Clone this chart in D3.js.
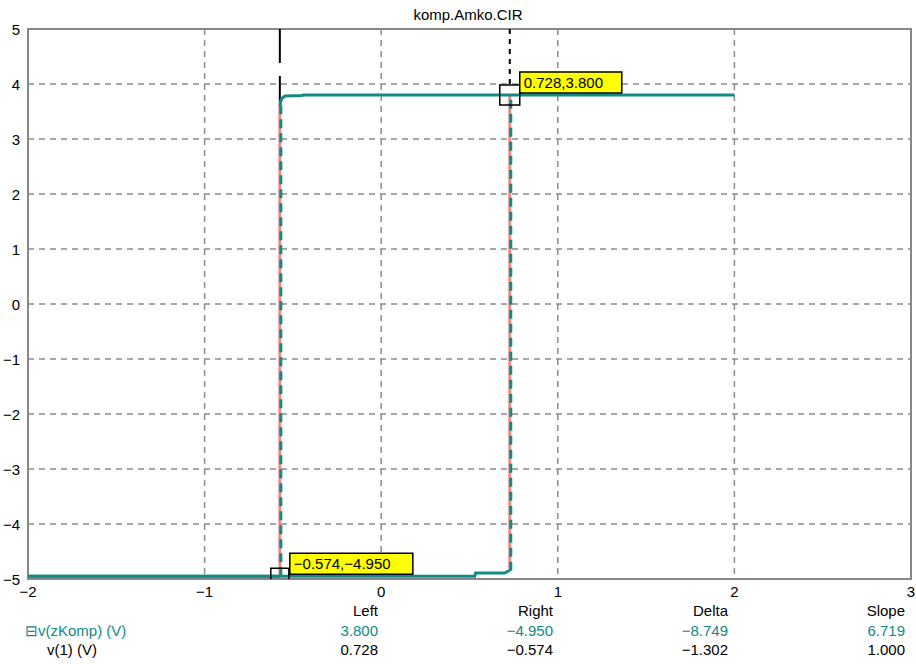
<!DOCTYPE html>
<html>
<head>
<meta charset="utf-8">
<script src="https://cdn.jsdelivr.net/npm/d3@7"></script>
<style>
body { margin: 0; background: #fff; }
text { font-family: "Liberation Sans", Arial, sans-serif; font-size: 15px; }
</style>
</head>
<body>
<script>
// chart values
var title = "komp.Amko.CIR";
var xTicks = [-2, -1, 0, 1, 2, 3];
var yTicks = [5, 4, 3, 2, 1, 0, -1, -2, -3, -4, -5];

// teal trace v(zKomp), horizontal parts
var riseX = [-2, 0.53, 0.535, 0.70, 0.715, 0.728];
var riseY = [-4.95, -4.95, -4.89, -4.89, -4.86, -4.85];
var fallX = [2, -0.44, -0.45, -0.545, -0.562, -0.57, -0.572];
var fallY = [3.8, 3.8, 3.79, 3.78, 3.74, 3.68, 3.6];
var lowX = [-0.574, -2];
var lowY = [-4.95, -4.95];
// vertical switching edges
var edgeX = [-0.574, 0.728];
var edgeLo = [-4.95, -4.85];
var edgeHi = [3.6, 3.8];

// cursors
var cursorX = [0.728, -0.574];
var cursorY = [3.8, -4.95];
var cursorLabel = ["0.728,3.800", "\u22120.574,\u22124.950"];

// readout table
var colNames = ["Left", "Right", "Delta", "Slope"];
var rowNames = ["\u229Fv(zKomp) (V)", "v(1) (V)"];
var rowValues = [
	["3.800", "\u22124.950", "\u22128.749", "6.719"],
	["0.728", "\u22120.574", "\u22121.302", "1.000"]
];

var teal = "#128a86";
var pink = "#f08a84";

var svg = d3.select("body").append("svg")
	.attr("width", 916).attr("height", 664);

var x = d3.scaleLinear().domain([-2, 3]).range([28, 911]);
var y = d3.scaleLinear().domain([-5, 5]).range([579, 29]);

svg.append("clipPath").attr("id", "plotclip")
	.append("rect")
	.attr("x", x(-2)).attr("y", y(5))
	.attr("width", x(3) - x(-2)).attr("height", y(-5) - y(5));

// title
svg.append("text")
	.attr("x", 468).attr("y", 20)
	.attr("text-anchor", "middle")
	.text(title);

// grid
svg.append("g").selectAll("line")
	.data(xTicks.slice(1, -1))
	.enter().append("line")
	.attr("x1", function(d) { return x(d); }).attr("x2", function(d) { return x(d); })
	.attr("y1", y(5)).attr("y2", y(-5))
	.attr("stroke", "#8c8c8c").attr("stroke-width", 1.5)
	.attr("stroke-dasharray", "6,5");
svg.append("g").selectAll("line")
	.data(yTicks.slice(1, -1))
	.enter().append("line")
	.attr("x1", x(-2)).attr("x2", x(3))
	.attr("y1", function(d) { return y(d); }).attr("y2", function(d) { return y(d); })
	.attr("stroke", "#8c8c8c").attr("stroke-width", 1.5)
	.attr("stroke-dasharray", "6,5");

// frame
svg.append("rect")
	.attr("x", x(-2)).attr("y", y(5))
	.attr("width", x(3) - x(-2)).attr("height", y(-5) - y(5))
	.attr("fill", "none").attr("stroke", "#888").attr("stroke-width", 2);

// tick labels
var fmt = function(d) { return d < 0 ? "\u2212" + Math.abs(d) : "" + d; };
svg.append("g").selectAll("text")
	.data(yTicks)
	.enter().append("text")
	.attr("x", 20)
	.attr("y", function(d) { return y(d) + 6; })
	.attr("text-anchor", "end")
	.text(fmt);
svg.append("g").selectAll("text")
	.data(xTicks)
	.enter().append("text")
	.attr("x", function(d) { return x(d); })
	.attr("y", 597)
	.attr("text-anchor", "middle")
	.text(fmt);

// left cursor line (long dashes) above the trace
svg.append("line")
	.attr("x1", x(cursorX[1])).attr("x2", x(cursorX[1]))
	.attr("y1", y(5)).attr("y2", y(3.6))
	.attr("stroke", "#000").attr("stroke-width", 2)
	.attr("stroke-dasharray", "34,13");
// right cursor line (short dashes)
svg.append("line")
	.attr("x1", x(cursorX[0])).attr("x2", x(cursorX[0]))
	.attr("y1", y(5)).attr("y2", y(cursorY[0]) - 10)
	.attr("stroke", "#000").attr("stroke-width", 2)
	.attr("stroke-dasharray", "5,5");

// pink edges underneath
svg.append("g").selectAll("line")
	.data(edgeX)
	.enter().append("line")
	.attr("x1", function(d) { return x(d); }).attr("x2", function(d) { return x(d); })
	.attr("y1", function(d, i) { return y(edgeLo[i]); })
	.attr("y2", function(d, i) { return y(edgeHi[i]); })
	.attr("stroke", pink).attr("stroke-width", 3);

var line = d3.line().x(function(d) { return x(d[0]); }).y(function(d) { return y(d[1]); });
var zip = function(a, b) { return a.map(function(v, i) { return [v, b[i]]; }); };

[[riseX, riseY], [fallX, fallY], [lowX, lowY]].forEach(function(s) {
	svg.append("path")
		.attr("d", line(zip(s[0], s[1])))
		.attr("fill", "none").attr("stroke", teal).attr("stroke-width", 3);
});

// teal dashed edges on top
svg.append("g").selectAll("line")
	.data(edgeX)
	.enter().append("line")
	.attr("x1", function(d) { return x(d) + 1; }).attr("x2", function(d) { return x(d) + 1; })
	.attr("y1", function(d, i) { return y(edgeLo[i]); })
	.attr("y2", function(d, i) { return y(edgeHi[i]); })
	.attr("stroke", teal).attr("stroke-width", 3)
	.attr("stroke-dasharray", "9,5");

// cursor boxes and labels
var cg = svg.append("g").selectAll("g")
	.data(cursorX)
	.enter().append("g");
cg.append("rect")
	.attr("clip-path", "url(#plotclip)")
	.attr("x", function(d, i) { return x(d) - (i == 0 ? 10 : 9); })
	.attr("y", function(d, i) { return y(cursorY[i]) - (i == 0 ? 10 : 8); })
	.attr("width", function(d, i) { return i == 0 ? 20 : 18; })
	.attr("height", function(d, i) { return i == 0 ? 20 : 18; })
	.attr("fill", "none").attr("stroke", "#000").attr("stroke-width", 1.5);
cg.append("rect")
	.attr("x", function(d) { return x(d) + 10; })
	.attr("y", function(d, i) { return y(cursorY[i]) - 23; })
	.attr("width", function(d, i) { return i == 0 ? 102 : 123; })
	.attr("height", 21)
	.attr("fill", "#ffff00").attr("stroke", "#000").attr("stroke-width", 1.5);
cg.append("text")
	.attr("x", function(d) { return x(d) + 14; })
	.attr("y", function(d, i) { return y(cursorY[i]) - 7; })
	.text(function(d, i) { return cursorLabel[i]; });

// readout table
var colRight = [378, 553, 728, 905];
svg.append("g").selectAll("text")
	.data(colNames)
	.enter().append("text")
	.attr("x", function(d, i) { return colRight[i]; })
	.attr("y", 616)
	.attr("text-anchor", "end")
	.text(function(d) { return d; });
rowNames.forEach(function(name, r) {
	var col = r == 0 ? teal : "#000";
	svg.append("text")
		.attr("x", r == 0 ? 25 : 47)
		.attr("y", 636 + r * 19)
		.attr("fill", col)
		.text(name);
	svg.append("g").selectAll("text")
		.data(rowValues[r])
		.enter().append("text")
		.attr("x", function(d, i) { return colRight[i]; })
		.attr("y", 636 + r * 19)
		.attr("text-anchor", "end")
		.attr("fill", col)
		.text(function(d) { return d; });
});
</script>
</body>
</html>
